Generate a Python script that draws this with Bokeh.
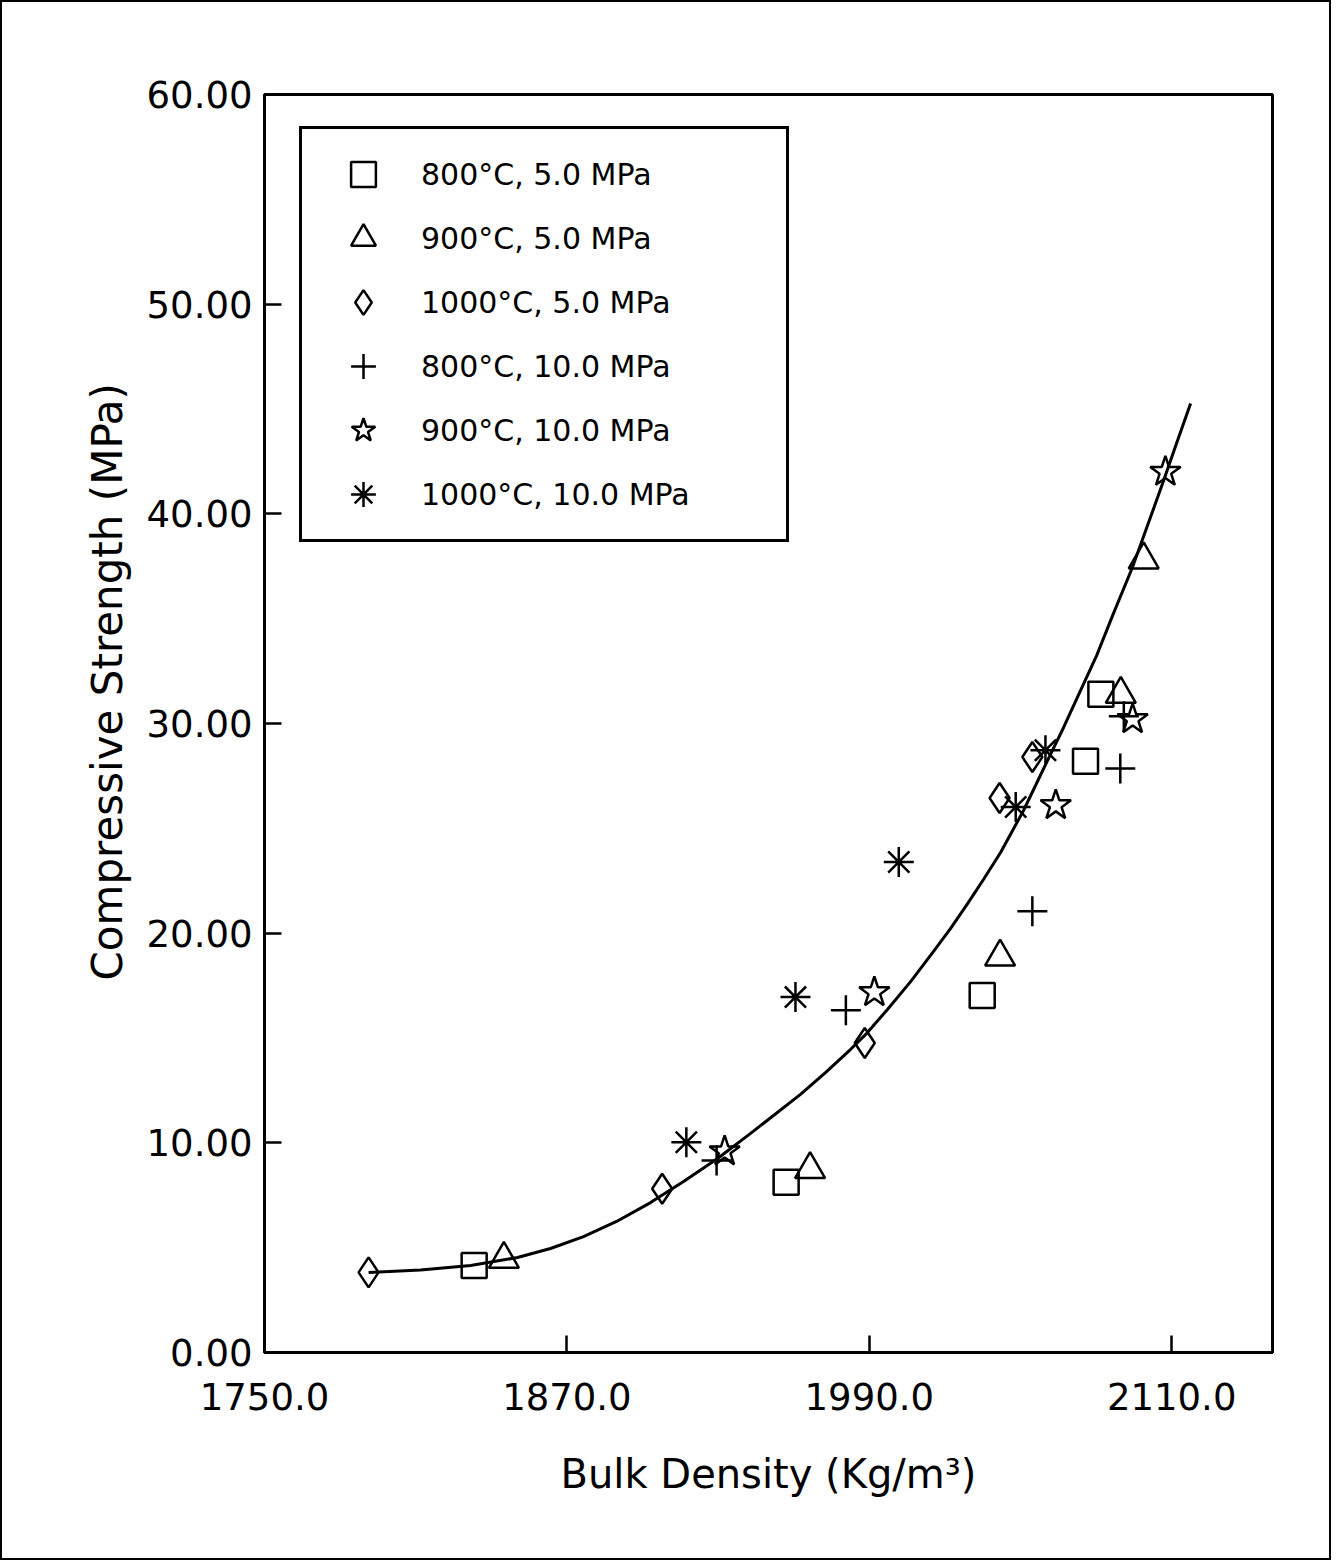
from bokeh.plotting import figure
from bokeh.models import (Range1d, FixedTicker, PrintfTickFormatter, Legend, LegendItem, Title)
from bokeh.embed import file_html
from bokeh.resources import INLINE

# ---- data ----
x_ticks = [1750, 1870, 1990, 2110]
y_ticks = [0, 10, 20, 30, 40, 50, 60]

labels = ["800°C, 5.0 MPa", "900°C, 5.0 MPa", "1000°C, 5.0 MPa",
          "800°C, 10.0 MPa", "900°C, 10.0 MPa", "1000°C, 10.0 MPa"]

sq_x = [1833.2, 1957.0, 2034.8, 2075.8, 2081.9]
sq_y = [4.15, 8.12, 17.03, 28.2, 31.4]

tri_x = [1845.0, 1966.5, 2041.9, 2089.8, 2098.9]
tri_y = [4.45, 8.73, 18.87, 31.4, 37.81]

dia_x = [1791.3, 1907.8, 1988.2, 2041.7, 2054.7]
dia_y = [3.82, 7.81, 14.76, 26.45, 28.4]

plus_x = [1929.4, 1980.7, 2054.7, 2089.6, 2091.0]
plus_y = [9.16, 16.32, 21.05, 27.85, 30.34]

star_x = [1932.6, 1992.0, 2064.0, 2094.5, 2107.5]
star_y = [9.59, 17.18, 26.1, 30.2, 42.0]

ast_x = [1917.4, 1960.7, 2001.7, 2048.1, 2059.9]
ast_y = [10.03, 16.95, 23.39, 26.02, 28.72]

# fitted curve, points
curve_x = [1791.3, 1811.9, 1831.8, 1850.4, 1863.5, 1876.6, 1889.7, 1903.2, 1916.3,
           1929.8, 1942.9, 1962.7, 1972.6, 1982.5, 1988.9, 1997.2, 2006.4, 2015.5,
           2022.2, 2029.0, 2035.3, 2042.1, 2051.2, 2060.7, 2067.1, 2073.8, 2080.2,
           2086.9, 2094.4, 2100.4, 2106.8, 2111.9, 2117.5]
curve_y = [3.82, 3.93, 4.15, 4.53, 4.96, 5.53, 6.25, 7.15, 8.16,
           9.25, 10.45, 12.31, 13.35, 14.45, 15.21, 16.36, 17.69, 19.13,
           20.22, 21.41, 22.56, 23.85, 25.85, 28.23, 29.81, 31.57, 33.24,
           35.25, 37.44, 39.44, 41.59, 43.35, 45.26]

FONT = "DejaVu Sans"

p = figure(width=1331, height=1560, output_backend="svg", toolbar_location=None,
           x_range=Range1d(1750, 2150), y_range=Range1d(0, 60),
           min_border_left=262, min_border_right=61, min_border_top=92,
           min_border_bottom=210)
p.styles = {"border": "2px solid black"}

p.xgrid.visible = False
p.ygrid.visible = False
p.outline_line_color = "black"
p.outline_line_width = 3
p.outline_line_alpha = 1
p.background_fill_color = "white"
p.border_fill_color = "white"

p.xaxis.ticker = FixedTicker(ticks=x_ticks)
p.yaxis.ticker = FixedTicker(ticks=y_ticks)
p.xaxis.formatter = PrintfTickFormatter(format="%.1f")
p.yaxis.formatter = PrintfTickFormatter(format="%.2f")

for ax in (p.xaxis, p.yaxis):
    ax.major_tick_in = 17
    ax.major_tick_out = 0
    ax.minor_tick_in = 0
    ax.minor_tick_out = 0
    ax.axis_line_width = 3
    ax.major_tick_line_width = 2.5
    ax.axis_line_color = "black"
    ax.major_tick_line_color = "black"
    ax.major_label_text_font = FONT
    ax.major_label_text_font_size = "37px"
    ax.major_label_text_color = "black"
    ax.axis_label_text_font = FONT
    ax.axis_label_text_font_size = "40px"
    ax.axis_label_text_font_style = "normal"
    ax.axis_label_text_color = "black"

p.xaxis.major_label_standoff = 30
p.yaxis.major_label_standoff = 12
p.xaxis.axis_label = "Bulk Density (Kg/m³)"
p.xaxis.axis_label_standoff = 38

# y-axis title, starting where the reference's title starts
ytitle = Title(text="Compressive Strength (MPa)", align="left", offset=372,
               standoff=24, text_font=FONT, text_font_size="42px",
               text_font_style="normal", text_color="black")
p.add_layout(ytitle, "left")

p.line(curve_x, curve_y, line_color="black", line_width=3)

common = dict(fill_color=None, line_color="black", line_width=2.5)
r_sq = p.scatter(sq_x, sq_y, marker="square", size=25, **common)
r_tri = p.scatter(tri_x, tri_y, marker="triangle", size=30, **common)
r_dia = p.scatter(dia_x, dia_y, marker="diamond", size=30, **common)
r_plus = p.scatter(plus_x, plus_y, marker="cross", size=30, line_color="black", line_width=2.5)
r_star = p.scatter(star_x, star_y, marker="star", size=32, **common)
r_ast = p.scatter(ast_x, ast_y, marker="asterisk", size=30, line_color="black", line_width=2.5)

renderers = [r_sq, r_tri, r_dia, r_plus, r_star, r_ast]
items = [LegendItem(label=lab, renderers=[r]) for lab, r in zip(labels, renderers)]
legend = Legend(items=items, location=(35, 810),
                glyph_width=94, glyph_height=62, spacing=2, padding=14, margin=0,
                label_standoff=11, label_width=351,
                label_text_font=FONT, label_text_font_size="30px", label_text_color="black",
                border_line_color="black", border_line_width=3, border_line_alpha=1,
                background_fill_color="white", background_fill_alpha=1)
p.add_layout(legend)

open("out.html", "w").write(file_html(p, INLINE))
